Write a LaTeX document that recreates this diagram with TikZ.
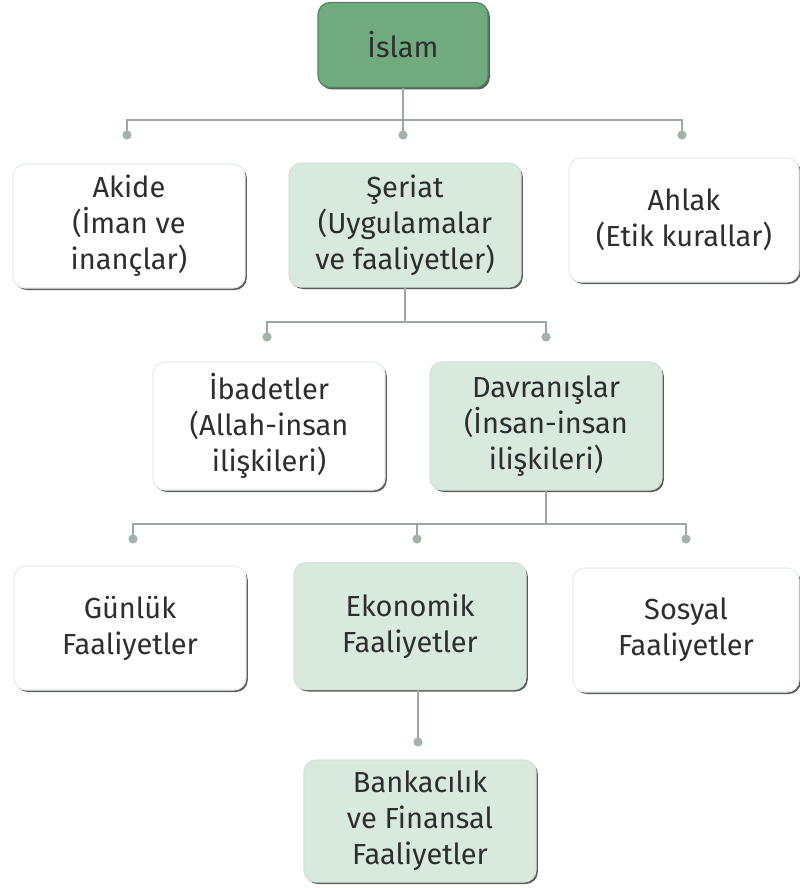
\documentclass[tikz,border=0pt]{standalone}
\usepackage{fontspec}
\setmainfont{Fira Sans}
\usetikzlibrary{positioning}
\usetikzlibrary{shadows}
\definecolor{islamgreen}{HTML}{72AA80}
\definecolor{islamedge}{HTML}{4F8A5F}
\definecolor{palegreen}{HTML}{D8E9DE}
\definecolor{paleedge}{HTML}{D6E3DA}
\definecolor{linegray}{HTML}{9EA7A1}
\definecolor{knobgray}{HTML}{A3B3A8}
\definecolor{textgray}{HTML}{2E2E2E}
\tikzset{conceptbox/.style={rectangle,rounded corners=6pt,line width=0.6pt,
inner sep=0pt,align=center,text=textgray,font=\fontsize{14.5}{18}\selectfont,
drop shadow={shadow xshift=0.9pt,shadow yshift=-1pt,fill=black!75,opacity=0.85}}}
\tikzset{topbox/.style={conceptbox,draw=islamedge,fill=islamgreen,
minimum width=85pt,minimum height=42.5pt}}
\tikzset{greenbox/.style={conceptbox,draw=paleedge,fill=palegreen,
minimum width=116pt,minimum height=62pt}}
\tikzset{whitebox/.style={conceptbox,draw=paleedge!60,fill=white,
minimum width=116pt,minimum height=62pt}}
\tikzset{branch/.style={draw=linegray,line width=1pt}}
\tikzset{knob/.style={circle,fill=knobgray,inner sep=0pt,minimum size=4.6pt}}

\begin{document}
\begin{tikzpicture}[x=0.5pt,y=-0.5pt]
    \useasboundingbox (0,0) rectangle (799,888);

    \node[topbox] (islam) at (403,45) {İslam};

    \node[whitebox] (akide) at (129,226) {Akide\\(İman ve\\inançlar)};
    \node[greenbox] (seriat) at (405,225) {Şeriat\\(Uygulamalar\\ve faaliyetler)};
    \node[whitebox, minimum width=115pt] (ahlak) at (684,220) {Ahlak\\(Etik kurallar)};

    \node[whitebox, minimum height=64pt] (ibadet) at (269,426) {İbadetler\\(Allah-insan\\ilişkileri)};
    \node[greenbox, minimum height=64pt] (davran) at (546,426) {Davranışlar\\(İnsan-insan\\ilişkileri)};

    \node[whitebox] (gunluk) at (130,628) {Günlük\\Faaliyetler};
    \node[greenbox, minimum height=63.5pt] (ekonomik) at (410,626) {Ekonomik\\Faaliyetler};
    \node[whitebox, minimum width=113pt] (sosyal) at (686,630) {Sosyal\\Faaliyetler};

    \node[greenbox, minimum height=61pt] (banka) at (420,821) {Bankacılık\\ve Finansal\\Faaliyetler};

    % first level
    \coordinate (akideknob) at (127,135);
    \coordinate (seriatknob) at (403,135);
    \coordinate (ahlakknob) at (682,135);
    \draw[branch] (akideknob) -- ++(0,-15) -| (ahlakknob);
    \draw[branch] (islam.south -| seriatknob) -- (seriatknob);

    % second level
    \coordinate (ibadetknob) at (267,337);
    \coordinate (davranknob) at (546,337);
    \coordinate (seriatbus) at (405,322);
    \draw[branch] (ibadetknob) -- ++(0,-15) -| (davranknob);
    \draw[branch] (seriat.south -| seriatbus) -- (seriatbus);

    % third level
    \coordinate (gunlukknob) at (133,539);
    \coordinate (ekonomikknob) at (417,539);
    \coordinate (sosyalknob) at (686,539);
    \coordinate (davranbus) at (546,524);
    \draw[branch] (gunlukknob) -- ++(0,-15) -| (sosyalknob);
    \draw[branch] (ekonomikknob) -- ++(0,-15);
    \draw[branch] (davran.south -| davranbus) -- (davranbus);

    % fourth level
    \coordinate (bankaknob) at (418,742);
    \draw[branch] (ekonomik.south -| bankaknob) -- (bankaknob);

    \foreach \k in {akide,seriat,ahlak,ibadet,davran,gunluk,ekonomik,sosyal,banka}
        \node[knob] (\k dot) at (\k knob) {};

\end{tikzpicture}
\end{document}
